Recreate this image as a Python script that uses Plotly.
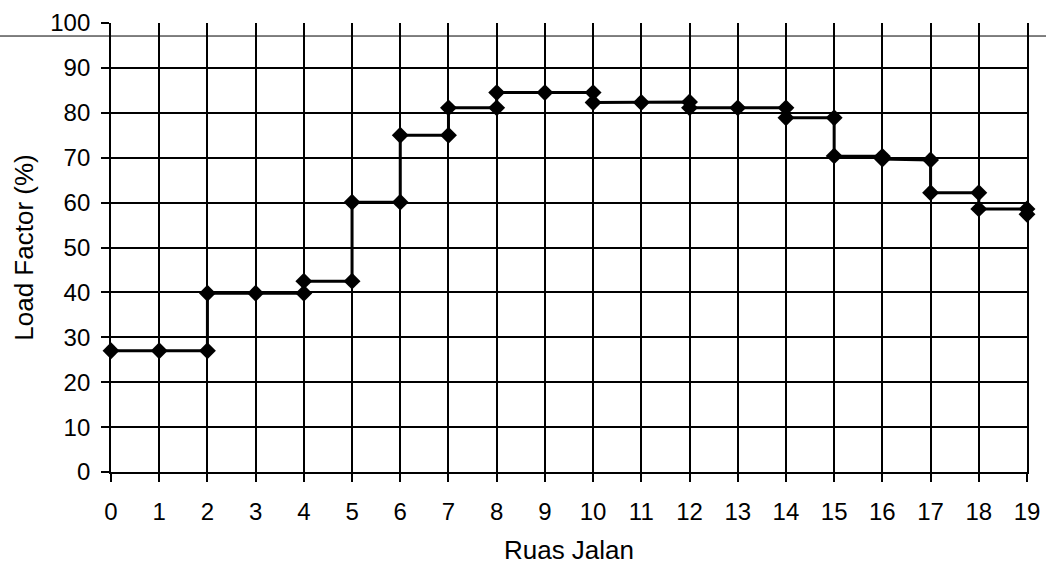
import plotly.graph_objects as go

# Data (step profile: two values at a segment boundary)
ruas = [0, 1, 2, 2, 3, 4, 4, 5, 5, 6, 6, 7, 7, 8, 8, 9, 10, 10, 11, 12, 12, 13,
        14, 14, 15, 15, 16, 16, 17, 17, 18, 18, 19, 19]
load_factor = [27, 27, 27, 39.8, 39.8, 39.8, 42.5, 42.5, 60.1, 60.1, 75, 75,
               81.1, 81.1, 84.5, 84.5, 84.5, 82.3, 82.3, 82.4, 81.1, 81.1,
               81.1, 78.9, 78.9, 70.4, 70.3, 69.7, 69.5, 62.2, 62.2, 58.6,
               58.6, 57.4]
x_ticks = list(range(0, 20))
x_tick_labels = [str(v) for v in x_ticks]
y_ticks = list(range(0, 101, 10))

fig = go.Figure()
fig.add_trace(go.Scatter(
    x=ruas, y=load_factor, mode="lines+markers",
    line=dict(color="black", width=3),
    marker=dict(symbol="diamond", size=13, color="black"),
    showlegend=False, cliponaxis=False,
))

font = dict(family="Liberation Sans, Arial, sans-serif", color="black")

fig.update_layout(
    width=1046, height=565,
    margin=dict(l=111, r=19, t=23, b=93, autoexpand=False),
    paper_bgcolor="white", plot_bgcolor="white",
    font=dict(**font, size=22),
    xaxis=dict(
        range=[0, 19], tickmode="array", tickvals=x_ticks, ticktext=x_tick_labels,
        showgrid=True, gridcolor="black", gridwidth=1.8,
        showline=True, linecolor="black", linewidth=1.8,
        ticks="outside", ticklen=8, tickcolor="black", tickwidth=1.5,
        ticklabelstandoff=9, automargin=False,
        tickfont=dict(**font, size=24),
        title=dict(text="Ruas Jalan", font=dict(**font, size=26), standoff=18),
        zeroline=False,
    ),
    yaxis=dict(
        range=[0, 100], tickmode="array", tickvals=y_ticks,
        showgrid=True, gridcolor="black", gridwidth=2,
        showline=True, linecolor="black", linewidth=1.8,
        mirror=True, automargin=False,
        ticks="outside", ticklen=8, tickcolor="black", tickwidth=1.5,
        ticklabelstandoff=6,
        tickfont=dict(**font, size=24),
        title=dict(text="Load Factor (%)", font=dict(**font, size=26), standoff=9),
        zeroline=False,
    ),
)

# Scan artefact: thin rule running across the full page near the top
fig.add_shape(type="line", xref="paper", yref="y",
              x0=-111 / 916, x1=(1046 - 111) / 916, y0=97.1, y1=97.1,
              line=dict(color="black", width=1))

fig.write_html("out.html")
